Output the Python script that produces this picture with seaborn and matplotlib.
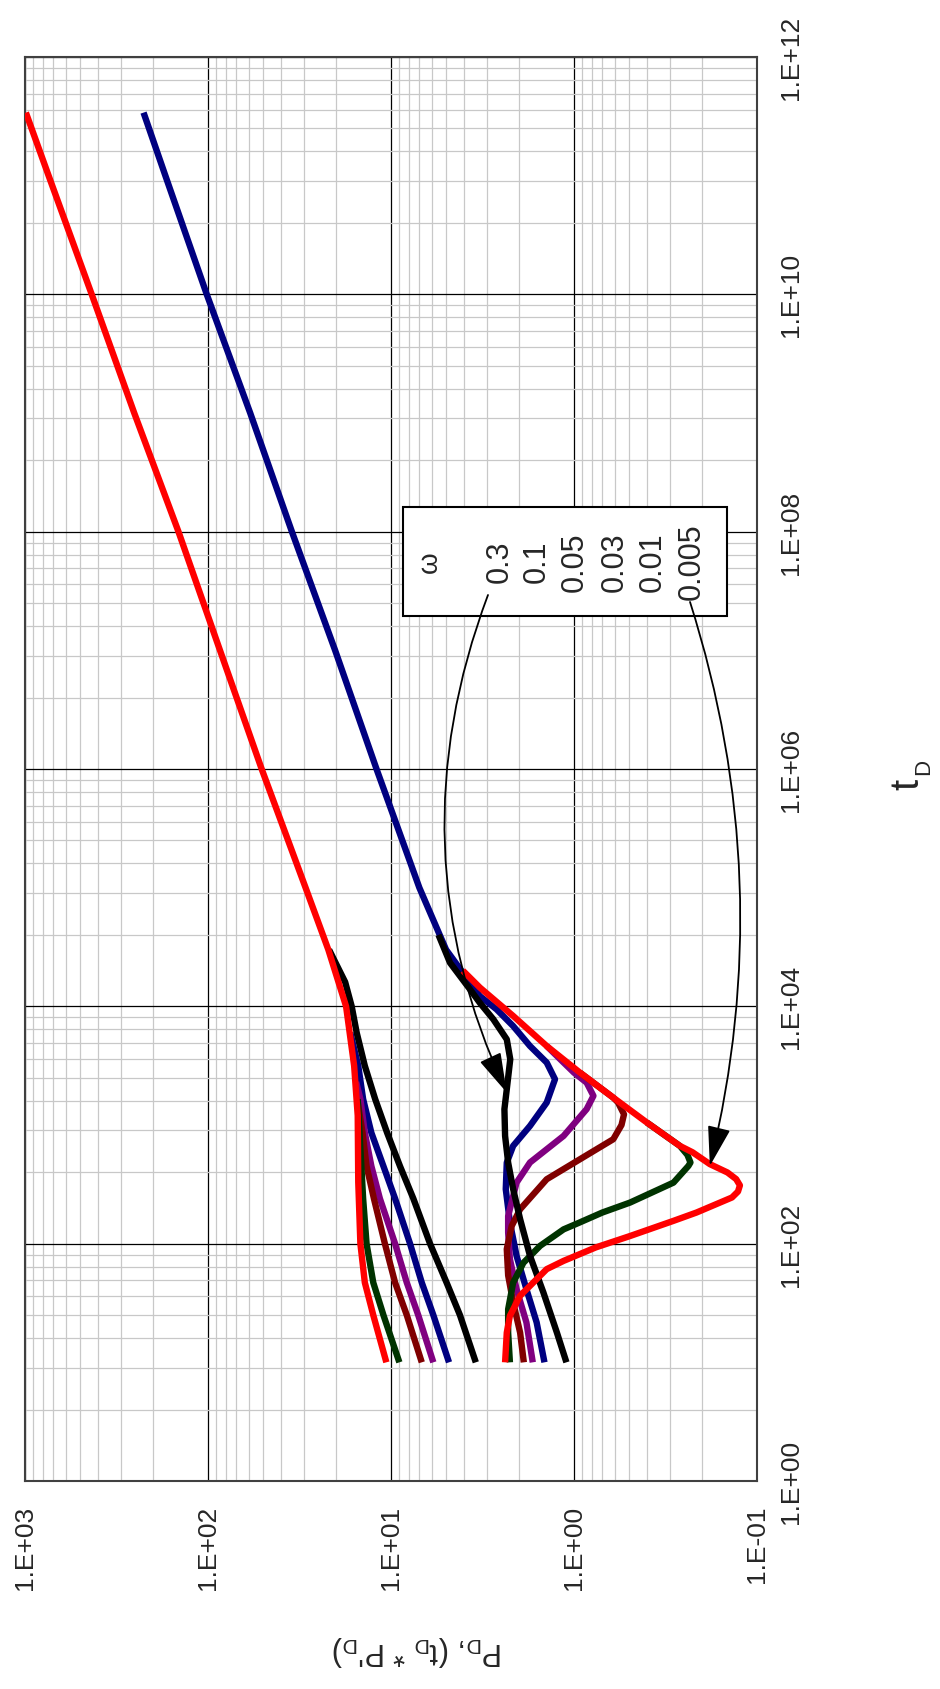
import numpy as np
import pandas as pd
import matplotlib
matplotlib.use("Agg")
import matplotlib.pyplot as plt
import seaborn as sns
from matplotlib.ticker import FixedLocator, FuncFormatter, NullFormatter
from matplotlib.patches import Rectangle

# ---------------- data ----------------
omega_labels = ["0.3", "0.1", "0.05", "0.03", "0.01", "0.005"]
omega_colors = ["#000000", "#000080", "#800080", "#800000", "#003300", "#FF0000"]

# dimensionless pressure P_D
pd_t_03 = [10, 25, 47, 100, 240, 450, 860, 1650, 3150, 6000, 10000, 16000, 30000]
pd_p_03 = [3.44, 4.2, 4.97, 6.12, 7.55, 8.93, 10.5, 12.2, 13.9, 15.4, 16.4, 17.8, 21.8]
pd_t_01 = [10, 25, 47, 100, 240, 450, 860, 1650, 3150, 6000]
pd_p_01 = [4.82, 5.87, 6.79, 7.87, 9.5, 11.0, 12.8, 14.2, 15.1, 16.7]
pd_t_005 = [10, 25, 47, 100, 240, 450, 860, 1650, 2300]
pd_p_005 = [5.87, 7.1, 8.2, 9.5, 11.5, 12.8, 13.9, 14.7, 15.5]
pd_t_003 = [10, 25, 47, 100, 240, 450, 860, 1650]
pd_p_003 = [6.79, 8.2, 9.5, 10.8, 12.4, 13.6, 14.3, 15.3]
pd_t_001 = [10, 25, 47, 100, 240, 630, 1650]
pd_p_001 = [9.0, 11.0, 12.5, 13.6, 14.2, 14.7, 15.2]
pd_t_0005 = [10, 25, 47, 100, 330, 1200, 3150, 10000, 30000, 1e5, 1e6, 1e7,
             1e8, 1e9, 1e10, 1e11, 3.4e11]
pd_p_0005 = [10.6, 12.5, 13.9, 14.7, 15.1, 15.2, 15.9, 17.6, 22.0, 29.3, 50.9,
             86.0, 145, 253, 432, 743, 989]

# derivative t_D * P'_D
dv_t_03 = [10, 17.8, 38.8, 79, 161, 288, 482, 809, 1360, 2000, 3580, 5270, 7780,
           10700, 13900, 23300, 40000]
dv_p_03 = [1.10, 1.24, 1.47, 1.74, 1.97, 2.15, 2.29, 2.38, 2.40, 2.33, 2.23, 2.33,
           2.76, 3.27, 3.70, 4.76, 5.5]
dv_t_01 = [10, 21.7, 41.4, 79, 151, 288, 482, 667, 982, 1545, 2430, 3360, 4630,
           6820, 9440, 12200, 30000, 1e5, 1e6, 1e7, 1e8, 1e9, 1e10, 1e11, 3.4e11]
dv_p_01 = [1.45, 1.60, 1.82, 2.06, 2.24, 2.36, 2.33, 2.15, 1.74, 1.41, 1.27, 1.41,
           1.74, 2.15, 2.65, 3.27, 5.0, 7.0, 12.0, 20.2, 34.8, 58.8, 101.6, 171, 225]
dv_t_005 = [10, 21.7, 41.4, 74, 124, 171, 327, 483, 809, 1360, 1760, 2275, 2760,
            3360, 4630]
dv_p_005 = [1.68, 1.82, 2.06, 2.24, 2.29, 2.29, 2.06, 1.74, 1.14, 0.853, 0.783,
            0.853, 1.0, 1.14, 1.41]
dv_t_003 = [10, 17.8, 32, 54, 90, 141, 195, 349, 515, 759, 1000, 1230, 1550, 1700,
            2760]
dv_p_003 = [1.88, 1.97, 2.15, 2.29, 2.33, 2.19, 1.97, 1.41, 0.927, 0.61, 0.55,
            0.533, 0.575, 0.61, 0.927]
dv_t_001 = [10, 17.8, 28, 47, 69, 96, 132, 151, 183, 222, 327, 452, 483, 560, 667,
            1050]
dv_p_001 = [2.24, 2.29, 2.29, 2.15, 1.89, 1.53, 1.14, 0.93, 0.70, 0.494, 0.286,
            0.237, 0.231, 0.240, 0.264, 0.40]
dv_t_0005 = [10, 17.8, 24.7, 36.4, 61, 71.6, 93, 116, 156, 183, 245, 275, 310, 350,
             398, 468, 589, 667, 1050, 1700, 2760, 4630, 8300, 14400, 20000]
dv_p_0005 = [2.38, 2.33, 2.24, 1.97, 1.41, 1.14, 0.76, 0.494, 0.285, 0.214, 0.137,
             0.127, 0.124, 0.130, 0.145, 0.181, 0.225, 0.264, 0.40, 0.61, 0.927,
             1.41, 2.15, 3.27, 4.05]

p_ticks = [0.1, 1, 10, 100, 1000]
t_ticks = [1, 1e2, 1e4, 1e6, 1e8, 1e10, 1e12]

# ---------------- assemble ----------------
series = [
    ("0.1", "P", pd_t_01, pd_p_01), ("0.1", "dP", dv_t_01, dv_p_01),
    ("0.05", "P", pd_t_005, pd_p_005), ("0.05", "dP", dv_t_005, dv_p_005),
    ("0.03", "P", pd_t_003, pd_p_003), ("0.03", "dP", dv_t_003, dv_p_003),
    ("0.01", "P", pd_t_001, pd_p_001), ("0.01", "dP", dv_t_001, dv_p_001),
    ("0.3", "P", pd_t_03, pd_p_03), ("0.3", "dP", dv_t_03, dv_p_03),
    ("0.005", "P", pd_t_0005, pd_p_0005), ("0.005", "dP", dv_t_0005, dv_p_0005),
]
frames = []
for i, (om, kind, t, p) in enumerate(series):
    frames.append(pd.DataFrame({"omega": om, "kind": kind, "curve": i, "t": t, "P": p}))
df = pd.concat(frames, ignore_index=True)
color_of = dict(zip(omega_labels, omega_colors))

# ---------------- figure ----------------
sns.set_style("white")
plt.rcParams["font.family"] = ["Liberation Sans", "DejaVu Sans"]
plt.rcParams["mathtext.fontset"] = "custom"
plt.rcParams["mathtext.rm"] = "Liberation Sans"

fig = plt.figure(figsize=(9.4, 16.9), dpi=100)
ax = fig.add_axes([25 / 940, 208 / 1690, 732 / 940, 1424 / 1690])
ax.set_xscale("log")
ax.set_yscale("log")
ax.set_xlim(1000, 0.1)
ax.set_ylim(1, 1e12)

for i, (om, kind, t, p) in enumerate(series):
    sub = df[df["curve"] == i]
    sns.lineplot(data=sub, x="P", y="t", sort=False, estimator=None, ax=ax,
                 color=color_of[om], lw=4.6, legend=False, zorder=3 + i * 0.1,
                 solid_capstyle="butt", solid_joinstyle="round")

# ticks & grid
ax.xaxis.set_major_locator(FixedLocator(p_ticks))
ax.xaxis.set_minor_locator(FixedLocator([k * 10.0 ** n for n in range(-1, 3) for k in range(2, 10)]))
ax.yaxis.set_major_locator(FixedLocator(t_ticks))
ax.yaxis.set_minor_locator(FixedLocator([k * k * 100.0 ** n for n in range(6) for k in range(2, 10)]))
fmt = FuncFormatter(lambda v, pos: "1.E{:+03d}".format(int(round(np.log10(v)))))
ax.xaxis.set_major_formatter(fmt)
ax.yaxis.set_major_formatter(fmt)
ax.xaxis.set_minor_formatter(NullFormatter())
ax.yaxis.set_minor_formatter(NullFormatter())
ax.grid(which="minor", color="#c8c8c8", lw=0.9, zorder=0)
ax.grid(which="major", color="#000000", lw=0.9, zorder=0)
ax.set_axisbelow(True)

ax.yaxis.tick_right()
ax.tick_params(axis="y", which="both", length=0, pad=16, labelsize=19,
               labelrotation=90, labelright=True, labelleft=False)
ax.tick_params(axis="x", which="both", length=0, pad=17, labelsize=19,
               labelrotation=90)
for lbl in ax.get_yticklabels():
    lbl.set_va("center")
for sp in ax.spines.values():
    sp.set_visible(True)
    sp.set_color("#404040")
    sp.set_linewidth(1.5)
ax.set_xlabel("")
ax.set_ylabel("")

# axis titles (rotated like the reference)
fig.text(907 / 940, 1 - 784 / 1690, "t", rotation=90, ha="center", va="center",
         fontsize=29)
fig.text(924 / 940, 1 - 767 / 1690, "D", rotation=90, ha="center", va="center",
         fontsize=16)
fig.text(418 / 940, 1 - 1651 / 1690,
         r"P$_\mathregular{D}$, (t$_\mathregular{D}$ * P'$_\mathregular{D}$)",
         rotation=180, ha="center", va="center", fontsize=22)

# legend box
ax.add_patch(Rectangle((0.516, 0.6074), 0.4426, 0.0766, transform=ax.transAxes,
                       facecolor="white", edgecolor="black", lw=1.5, zorder=10))
ax.text(0.5533, 0.646, "ω", transform=ax.transAxes, rotation=90, ha="center",
        va="center", fontsize=20, zorder=11)
leg_x = [0.6489, 0.6995, 0.7514, 0.806, 0.858, 0.9112]
for xx, lab in zip(leg_x, omega_labels):
    ax.text(xx, 0.646, lab, transform=ax.transAxes, rotation=90, ha="center",
            va="center", fontsize=22, zorder=11)

# arrows
ax.annotate("", xy=(2.33, 1876), xycoords="data", xytext=(0.6325, 0.6222),
            textcoords="axes fraction",
            arrowprops=dict(arrowstyle="-|>,head_length=1.25,head_width=0.36",
                            mutation_scale=20, connectionstyle="arc3,rad=0.21",
                            color="black", lw=1.3, shrinkA=0, shrinkB=0),
            zorder=12)
ax.annotate("", xy=(0.181, 452), xycoords="data", xytext=(0.9085, 0.6173),
            textcoords="axes fraction",
            arrowprops=dict(arrowstyle="-|>,head_length=1.25,head_width=0.36",
                            mutation_scale=20, connectionstyle="arc3,rad=-0.14",
                            color="black", lw=1.3, shrinkA=0, shrinkB=0),
            zorder=12)

fig.savefig("out.png", dpi=100)
